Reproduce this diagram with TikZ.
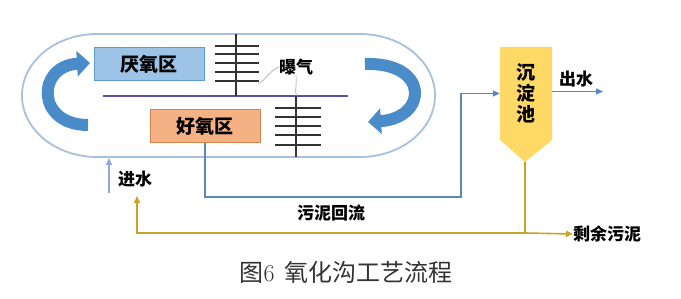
\documentclass[tikz,border=0pt]{standalone}
\usepackage{fontspec}
\usetikzlibrary{arrows.meta}
\newfontfamily\cjk{Noto Sans CJK SC}
\definecolor{ovalc}{HTML}{A9C0DE}
\definecolor{bigblue}{HTML}{4A8BC9}
\definecolor{anafill}{HTML}{9DC3E6}
\definecolor{anadraw}{HTML}{5B9BD5}
\definecolor{aerfill}{HTML}{F4B183}
\definecolor{aerdraw}{HTML}{D9824B}
\definecolor{tankfill}{HTML}{FFD966}
\definecolor{retblue}{HTML}{5B87C0}
\definecolor{inblue}{HTML}{8EA9DB}
\definecolor{gold}{HTML}{C9A227}
\definecolor{divc}{HTML}{5B4FA8}
\definecolor{aerc}{HTML}{333333}
\begin{document}
\begin{tikzpicture}[x=1pt,y=-1pt,
  zone/.style={line width=1pt, minimum width=110pt, minimum height=33pt, inner sep=0pt,
    font=\cjk\bfseries\fontsize{19}{19}\selectfont},
  lbl/.style={inner sep=0pt, font=\cjk\bfseries\fontsize{17}{17}\selectfont},
  retline/.style={draw=retblue, line width=1.4pt},
  sludge/.style={draw=gold, line width=1.6pt},
  endtip/.style={-{Triangle[length=7pt,width=6pt]}},
  bigarrow/.style={draw=bigblue, line width=12pt, -{Triangle[length=13pt,width=25pt]}},
  aerline/.style={draw=aerc, line width=1.8pt},
  leader/.style={draw=gray!70, line width=0.6pt}]
\useasboundingbox (0,0) rectangle (681,299);
\fill[white] (0,0) rectangle (681,299);

% oxidation ditch
\draw[ovalc, line width=1.8pt, fill=white]
  (97,34) -- (360,34) arc[start angle=90, end angle=-90, x radius=75pt, y radius=61.5pt]
  -- (97,157) arc[start angle=270, end angle=90, x radius=75pt, y radius=61.5pt] -- cycle;

% divider
\draw[divc, line width=1.5pt] (103,96) -- (348,96);

% zones
\node[zone, fill=anafill, draw=anadraw] (ana) at (149,64.5) {厌氧区};
\node[zone, fill=aerfill, draw=aerdraw] (aer) at (205,126.5) {好氧区};

% aerators
\draw[aerline] (236,34) -- (236,96);
\foreach \y in {46,54,63,72,81} \draw[aerline] (215,\y) -- (259,\y);
\draw[aerline] (296,96) -- (296,157);
\foreach \y in {108,117,126,135,145} \draw[aerline] (275,\y) -- (321,\y);

\node[lbl] (aerlbl) at (296,67) {曝气};
\draw[leader] (aerlbl.west) .. controls (268,72) and (266,80) .. (258,84);
\draw[leader] (aerlbl.south) .. controls (297,88) and (294,92) .. (297,96);

% circulation arrows
\draw[bigarrow] (88,125) .. controls (36,125) and (36,66) .. (90,63);
\draw[bigarrow] (365,64) .. controls (430,62) and (428,118) .. (368,122);

% settling tank
\fill[tankfill] (500,47) -- (552,47) -- (552,140) -- (525,162) -- (500,140) -- cycle;
\node[inner sep=0pt, minimum width=52pt, minimum height=93pt, align=center,
  font=\cjk\bfseries\fontsize{19}{21}\selectfont] (tank) at (526,93.5) {沉\\淀\\池};
\coordinate (tankbot) at (525,162);

% return sludge
\coordinate (r1) at (461,197);
\draw[retline, endtip] (aer.south) |- (r1) |- (tank.west);
\node[lbl] (retlbl) at (331,213) {污泥回流};

% effluent
\coordinate (outend) at (603,91.5);
\draw[retline, endtip] (tank.east |- outend) -- (outend);
\node[lbl] (outlbl) at (576,79) {出水};

% influent
\coordinate (in0) at (109,193);
\coordinate (in1) at (109,158);
\draw[draw=inblue, line width=1.4pt, endtip] (in0) -- (in1);
\node[lbl] (inlbl) at (135,179) {进水};

% sludge
\coordinate (j) at (525,233);
\coordinate (rs) at (137,196);
\node[lbl, anchor=west] (waste) at (573,234) {剩余污泥};
\draw[sludge, endtip] (tankbot) -- (j) -| (rs);
\draw[sludge, endtip] (j) -- (waste.west);

% caption
\node[inner sep=0pt, text=black!80, font=\fontsize{24}{24}\selectfont] (cap) at (346,272)
  {{\cjk 图}6\hspace{0.4em}{\cjk 氧化沟工艺流程}};
\end{tikzpicture}
\end{document}
